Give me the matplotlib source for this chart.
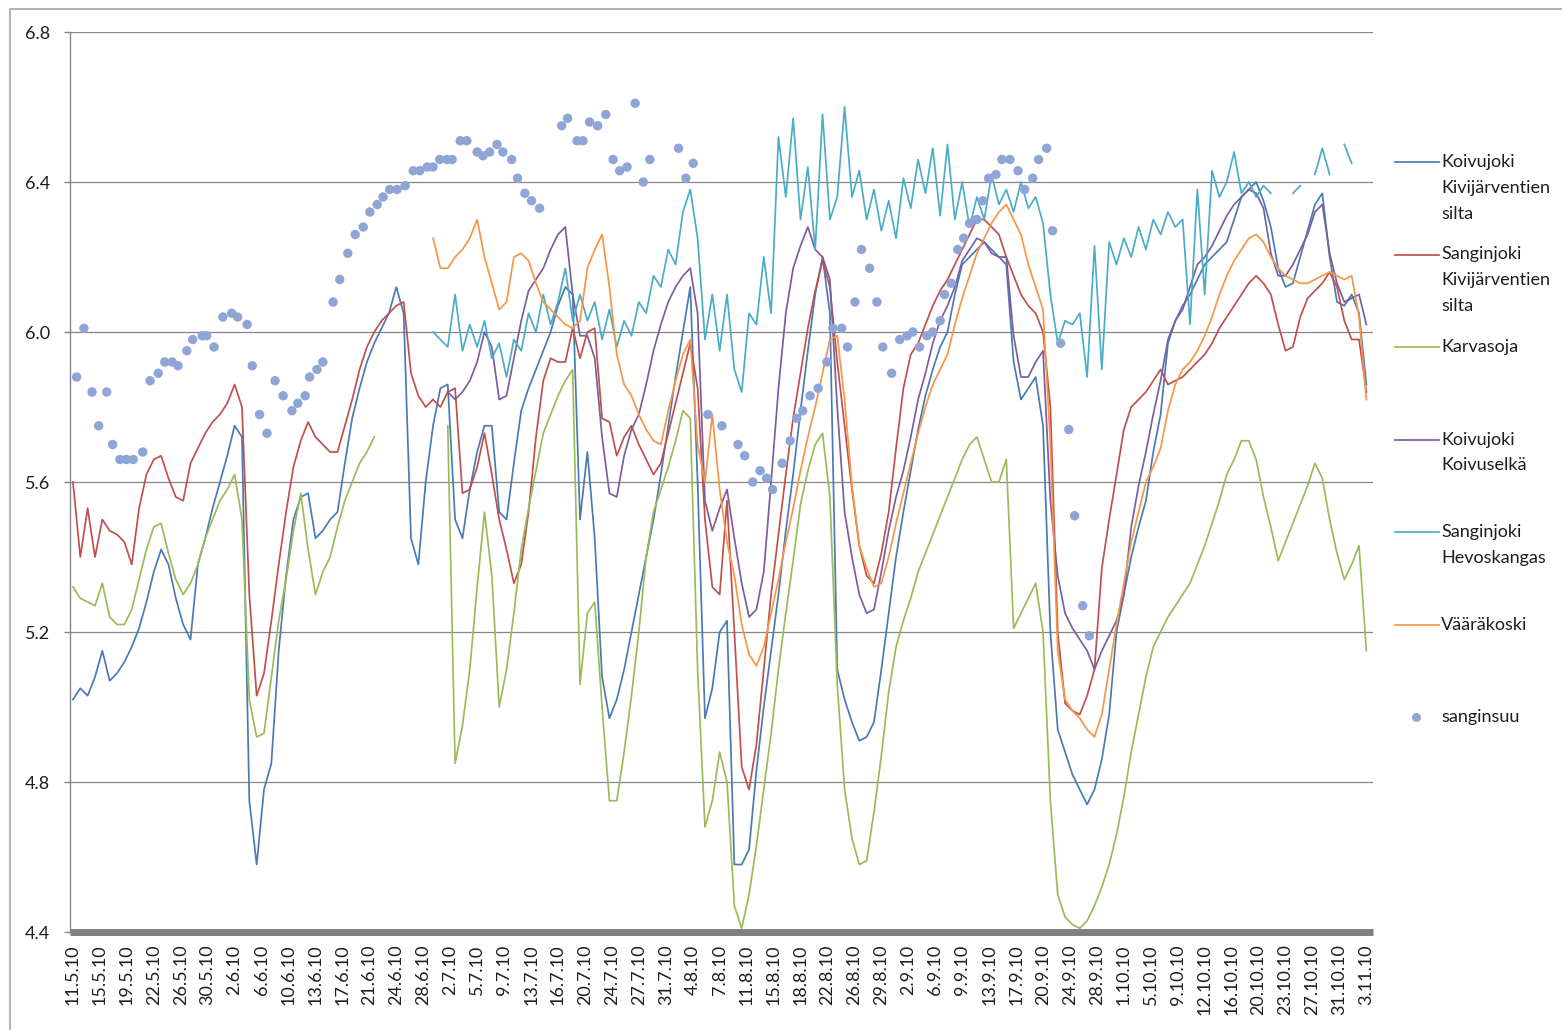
import numpy as np
import matplotlib
matplotlib.use("Agg")
import matplotlib.pyplot as plt
from matplotlib.lines import Line2D

plt.rcParams['font.family'] = ['Lato', 'DejaVu Sans']

# x labels: one label every 11th 8-hour step (= 11/3 days), first one on 11.5.10
DATE_LABELS = ["11.5.10", "15.5.10", "19.5.10", "22.5.10", "26.5.10", "30.5.10",
               "2.6.10", "6.6.10", "10.6.10", "13.6.10", "17.6.10", "21.6.10",
               "24.6.10", "28.6.10", "2.7.10", "5.7.10", "9.7.10", "13.7.10",
               "16.7.10", "20.7.10", "24.7.10", "27.7.10", "31.7.10", "4.8.10",
               "7.8.10", "11.8.10", "15.8.10", "18.8.10", "22.8.10", "26.8.10",
               "29.8.10", "2.9.10", "6.9.10", "9.9.10", "13.9.10", "17.9.10",
               "20.9.10", "24.9.10", "28.9.10", "1.10.10", "5.10.10", "9.10.10",
               "12.10.10", "16.10.10", "20.10.10", "23.10.10", "27.10.10",
               "31.10.10", "3.11.10"]
LABEL_STEP_DAYS = 11 / 3

# daily readings, day 0 = 11.5.10 (pH)
koivujoki_kivi = [
    5.02, 5.05, 5.03, 5.08, 5.15, 5.07, 5.09, 5.12, 5.16, 5.21,   # 0
    5.28, 5.36, 5.42, 5.38, 5.29, 5.22, 5.18, 5.38, 5.45, 5.53,   # 10
    5.60, 5.67, 5.75, 5.72, 4.75, 4.58, 4.78, 4.85, 5.15, 5.35,   # 20
    5.50, 5.56, 5.57, 5.45, 5.47, 5.50, 5.52, 5.65, 5.77, 5.85,   # 30
    5.92, 5.97, 6.01, 6.05, 6.12, 6.05, 5.45, 5.38, 5.60, 5.75,   # 40
    5.85, 5.86, 5.50, 5.45, 5.58, 5.68, 5.75, 5.75, 5.52, 5.50,   # 50
    5.65, 5.79, 5.85, 5.90, 5.95, 6.00, 6.07, 6.12, 6.10, 5.50,   # 60
    5.68, 5.45, 5.08, 4.97, 5.02, 5.10, 5.20, 5.30, 5.40, 5.50,   # 70
    5.62, 5.75, 5.88, 6.00, 6.12, 5.60, 4.97, 5.05, 5.20, 5.23,   # 80
    4.58, 4.58, 4.62, 4.83, 5.00, 5.15, 5.30, 5.47, 5.62, 5.79,   # 90
    5.95, 6.10, 6.20, 6.05, 5.10, 5.02, 4.96, 4.91, 4.92, 4.96,   # 100
    5.10, 5.25, 5.40, 5.52, 5.63, 5.74, 5.83, 5.90, 5.96, 6.00,   # 110
    6.10, 6.18, 6.20, 6.22, 6.24, 6.22, 6.20, 6.18, 5.92, 5.82,   # 120
    5.85, 5.88, 5.75, 5.20, 4.94, 4.88, 4.82, 4.78, 4.74, 4.78,   # 130
    4.86, 4.98, 5.20, 5.30, 5.40, 5.48, 5.55, 5.68, 5.78, 5.97,   # 140
    6.03, 6.07, 6.10, 6.14, 6.18, 6.20, 6.22, 6.24, 6.30, 6.36,   # 150
    6.38, 6.40, 6.35, 6.28, 6.17, 6.12, 6.13, 6.20, 6.27, 6.34,   # 160
    6.37, 6.20, 6.08, 6.07, 6.10, 6.05, 5.86]                     # 170

sanginjoki_kivi = [
    5.60, 5.40, 5.53, 5.40, 5.50, 5.47, 5.46, 5.44, 5.38, 5.53,
    5.62, 5.66, 5.67, 5.61, 5.56, 5.55, 5.65, 5.69, 5.73, 5.76,
    5.78, 5.81, 5.86, 5.80, 5.30, 5.03, 5.09, 5.23, 5.38, 5.52,
    5.64, 5.71, 5.76, 5.72, 5.70, 5.68, 5.68, 5.75, 5.82, 5.90,
    5.96, 6.00, 6.03, 6.05, 6.07, 6.08, 5.89, 5.83, 5.80, 5.82,
    5.80, 5.84, 5.85, 5.57, 5.58, 5.64, 5.73, 5.62, 5.50, 5.42,
    5.33, 5.38, 5.52, 5.72, 5.87, 5.93, 5.92, 5.92, 6.01, 5.93,
    6.00, 6.01, 5.77, 5.76, 5.67, 5.72, 5.75, 5.70, 5.66, 5.62,
    5.65, 5.73, 5.81, 5.89, 5.97, 5.85, 5.50, 5.32, 5.30, 5.55,
    5.20, 4.84, 4.78, 4.90, 5.10, 5.30, 5.46, 5.62, 5.77, 5.89,
    6.01, 6.11, 6.19, 6.12, 5.92, 5.75, 5.58, 5.43, 5.35, 5.33,
    5.41, 5.52, 5.69, 5.85, 5.94, 5.97, 6.02, 6.07, 6.11, 6.14,
    6.18, 6.22, 6.26, 6.30, 6.30, 6.28, 6.26, 6.20, 6.15, 6.10,
    6.07, 6.05, 6.00, 5.80, 5.20, 5.01, 4.99, 4.98, 5.03, 5.10,
    5.37, 5.50, 5.62, 5.74, 5.80, 5.82, 5.84, 5.87, 5.90, 5.86,
    5.87, 5.88, 5.90, 5.92, 5.94, 5.97, 6.01, 6.04, 6.07, 6.10,
    6.13, 6.15, 6.13, 6.10, 6.02, 5.95, 5.96, 6.04, 6.09, 6.11,
    6.13, 6.16, 6.12, 6.03, 5.98, 5.98, 5.84]

karvasoja = [
    5.32, 5.29, 5.28, 5.27, 5.33, 5.24, 5.22, 5.22, 5.26, 5.34,
    5.42, 5.48, 5.49, 5.41, 5.34, 5.30, 5.33, 5.38, 5.45, 5.50,
    5.55, 5.58, 5.62, 5.50, 5.02, 4.92, 4.93, 5.08, 5.23, 5.34,
    5.47, 5.57, 5.42, 5.30, 5.36, 5.40, 5.48, 5.55, 5.60, 5.65,
    5.68, 5.72, None, None, None, None, None, None, None, None,
    None, 5.75, 4.85, 4.95, 5.10, 5.32, 5.52, 5.35, 5.00, 5.10,
    5.25, 5.42, 5.53, 5.63, 5.73, 5.78, 5.83, 5.87, 5.90, 5.06,
    5.25, 5.28, 5.00, 4.75, 4.75, 4.88, 5.03, 5.20, 5.40, 5.52,
    5.58, 5.64, 5.71, 5.79, 5.77, 5.10, 4.68, 4.75, 4.88, 4.80,
    4.47, 4.41, 4.50, 4.63, 4.78, 4.93, 5.10, 5.25, 5.39, 5.54,
    5.63, 5.70, 5.73, 5.56, 5.06, 4.78, 4.65, 4.58, 4.59, 4.72,
    4.87, 5.04, 5.16, 5.23, 5.29, 5.36, 5.41, 5.46, 5.51, 5.56,
    5.61, 5.66, 5.70, 5.72, 5.66, 5.60, 5.60, 5.66, 5.21, 5.25,
    5.29, 5.33, 5.20, 4.75, 4.50, 4.44, 4.42, 4.41, 4.43, 4.47,
    4.52, 4.58, 4.66, 4.76, 4.88, 4.98, 5.08, 5.16, 5.20, 5.24,
    5.27, 5.30, 5.33, 5.38, 5.43, 5.49, 5.55, 5.62, 5.66, 5.71,
    5.71, 5.66, 5.56, 5.48, 5.39, 5.44, 5.49, 5.54, 5.59, 5.65,
    5.61, 5.50, 5.41, 5.34, 5.38, 5.43, 5.15]

koivujoki_koivuselka = [None] * 51 + [
    5.84, 5.82, 5.84, 5.87, 5.92, 6.00, 5.96, 5.82, 5.83,         # 51
    5.93, 6.03, 6.11, 6.14, 6.17, 6.22, 6.26, 6.28, 6.10, 5.99,
    5.99, 5.93, 5.72, 5.57, 5.56, 5.67, 5.74, 5.78, 5.86, 5.95,
    6.02, 6.08, 6.12, 6.15, 6.17, 6.05, 5.55, 5.47, 5.53, 5.58,
    5.45, 5.33, 5.24, 5.26, 5.36, 5.60, 5.85, 6.05, 6.17, 6.23,
    6.28, 6.22, 6.20, 6.14, 5.80, 5.52, 5.40, 5.30, 5.25, 5.26,
    5.36, 5.47, 5.56, 5.63, 5.72, 5.82, 5.89, 5.97, 6.03, 6.07,
    6.12, 6.19, 6.22, 6.25, 6.24, 6.21, 6.20, 6.20, 5.99, 5.88,
    5.88, 5.92, 5.95, 5.55, 5.35, 5.25, 5.21, 5.18, 5.15, 5.10,
    5.15, 5.19, 5.23, 5.30, 5.48, 5.59, 5.68, 5.78, 5.87, 5.98,
    6.03, 6.06, 6.12, 6.18, 6.20, 6.23, 6.27, 6.31, 6.34, 6.36,
    6.38, 6.37, 6.33, 6.21, 6.15, 6.15, 6.18, 6.22, 6.26, 6.32,
    6.34, 6.21, 6.13, 6.08, 6.09, 6.10, 6.02]

sanginjoki_hevoskangas = [None] * 49 + [
    6.00,                                                         # 49
    5.98, 5.96, 6.10, 5.95, 6.02, 5.96, 6.03, 5.93, 5.97, 5.88,
    5.98, 5.95, 6.05, 6.00, 6.10, 6.02, 6.08, 6.17, 6.03, 6.10,
    6.03, 6.08, 5.98, 6.06, 5.96, 6.03, 5.99, 6.08, 6.05, 6.15,
    6.12, 6.22, 6.18, 6.32, 6.38, 6.25, 5.98, 6.10, 5.95, 6.10,
    5.90, 5.84, 6.05, 6.02, 6.20, 6.05, 6.52, 6.36, 6.57, 6.30,
    6.44, 6.22, 6.58, 6.30, 6.36, 6.60, 6.36, 6.43, 6.30, 6.38,
    6.27, 6.35, 6.25, 6.41, 6.33, 6.46, 6.37, 6.49, 6.31, 6.50,
    6.30, 6.40, 6.28, 6.36, 6.30, 6.42, 6.34, 6.38, 6.32, 6.40,
    6.33, 6.36, 6.29, 6.10, 5.97, 6.03, 6.02, 6.05, 5.88, 6.23,
    5.90, 6.24, 6.18, 6.25, 6.20, 6.28, 6.22, 6.30, 6.26, 6.32,
    6.28, 6.30, 6.02, 6.38, 6.10, 6.43, 6.36, 6.40, 6.48, 6.37,
    6.40, 6.36, 6.39, 6.37, None, None, 6.37, 6.39, None, 6.42,
    6.49, 6.42, None, 6.50, 6.45, None, 6.33]

vaarakoski = [None] * 49 + [
    6.25,                                                         # 49
    6.17, 6.17, 6.20, 6.22, 6.25, 6.30, 6.20, 6.13, 6.06, 6.08,
    6.20, 6.21, 6.19, 6.13, 6.08, 6.06, 6.04, 6.02, 6.01, 6.03,
    6.17, 6.22, 6.26, 6.12, 5.94, 5.86, 5.83, 5.78, 5.74, 5.71,
    5.70, 5.79, 5.87, 5.94, 5.98, 5.70, 5.60, 5.78, 5.58, 5.44,
    5.35, 5.22, 5.14, 5.11, 5.16, 5.25, 5.34, 5.44, 5.53, 5.63,
    5.72, 5.80, 5.89, 5.98, 5.99, 5.82, 5.59, 5.43, 5.37, 5.32,
    5.33, 5.40, 5.49, 5.57, 5.65, 5.73, 5.80, 5.86, 5.90, 5.94,
    6.02, 6.09, 6.15, 6.21, 6.25, 6.29, 6.32, 6.34, 6.30, 6.26,
    6.18, 6.12, 6.06, 5.70, 5.15, 5.02, 4.99, 4.97, 4.94, 4.92,
    4.98, 5.10, 5.22, 5.33, 5.44, 5.52, 5.60, 5.64, 5.69, 5.79,
    5.86, 5.90, 5.92, 5.95, 5.99, 6.04, 6.10, 6.15, 6.19, 6.22,
    6.25, 6.26, 6.24, 6.20, 6.17, 6.15, 6.14, 6.13, 6.13, 6.14,
    6.15, 6.16, 6.15, 6.14, 6.15, 6.04, 5.82]

# sanginsuu: single grab samples
sanginsuu_day = [
    0.5, 1.5, 2.6, 3.5, 4.6, 5.4, 6.4, 7.3, 8.2, 9.5,
    10.5, 11.6, 12.5, 13.5, 14.3, 15.5, 16.3, 17.6, 18.2, 19.2,
    20.4, 21.6, 22.4, 23.7, 24.4, 25.4, 26.4, 27.5, 28.6, 29.8,
    30.6, 31.6, 32.2, 33.2, 34.0, 35.4, 36.3, 37.4, 38.4, 39.5,
    40.4, 41.4, 42.2, 43.1, 44.1, 45.2, 46.3, 47.2, 48.2, 49.0,
    49.9, 50.9, 51.6, 52.7, 53.6, 55.0, 55.8, 56.7, 57.7, 58.5,
    59.7, 60.5, 61.5, 62.4, 63.5, 66.5, 67.3, 68.6, 69.4, 70.3,
    71.4, 72.5, 73.5, 74.4, 75.4, 76.5, 77.6, 78.5, 82.4, 83.4,
    84.4, 86.4, 88.3, 90.5, 91.4, 92.5, 93.5, 94.4, 95.2, 96.5,
    97.6, 98.5, 99.3, 100.3, 101.4, 102.6, 103.4, 104.6, 105.4, 106.4,
    107.3, 108.4, 109.4, 110.2, 111.4, 112.5, 113.5, 114.3, 115.2, 116.2,
    117.0, 118.0, 118.6, 119.5, 120.4, 121.2, 122.0, 123.0, 123.8, 124.6,
    125.6, 126.4, 127.5, 128.6, 129.5, 130.6, 131.4, 132.5, 133.3, 134.4,
    135.5, 136.3, 137.4, 138.3]
sanginsuu = [
    5.88, 6.01, 5.84, 5.75, 5.84, 5.70, 5.66, 5.66, 5.66, 5.68,
    5.87, 5.89, 5.92, 5.92, 5.91, 5.95, 5.98, 5.99, 5.99, 5.96,
    6.04, 6.05, 6.04, 6.02, 5.91, 5.78, 5.73, 5.87, 5.83, 5.79,
    5.81, 5.83, 5.88, 5.90, 5.92, 6.08, 6.14, 6.21, 6.26, 6.28,
    6.32, 6.34, 6.36, 6.38, 6.38, 6.39, 6.43, 6.43, 6.44, 6.44,
    6.46, 6.46, 6.46, 6.51, 6.51, 6.48, 6.47, 6.48, 6.50, 6.48,
    6.46, 6.41, 6.37, 6.35, 6.33, 6.55, 6.57, 6.51, 6.51, 6.56,
    6.55, 6.58, 6.46, 6.43, 6.44, 6.61, 6.40, 6.46, 6.49, 6.41,
    6.45, 5.78, 5.75, 5.70, 5.67, 5.60, 5.63, 5.61, 5.58, 5.65,
    5.71, 5.77, 5.79, 5.83, 5.85, 5.92, 6.01, 6.01, 5.96, 6.08,
    6.22, 6.17, 6.08, 5.96, 5.89, 5.98, 5.99, 6.00, 5.96, 5.99,
    6.00, 6.03, 6.10, 6.13, 6.22, 6.25, 6.29, 6.30, 6.35, 6.41,
    6.42, 6.46, 6.46, 6.43, 6.38, 6.41, 6.46, 6.49, 6.27, 5.97,
    5.74, 5.51, 5.27, 5.19]

SERIES = [
    ("Koivujoki\nKivijärventien\nsilta", koivujoki_kivi, "#4A7AB5"),
    ("Sanginjoki\nKivijärventien\nsilta", sanginjoki_kivi, "#C0504D"),
    ("Karvasoja", karvasoja, "#9BBB59"),
    ("Koivujoki\nKoivuselkä", koivujoki_koivuselka, "#7B5E9E"),
    ("Sanginjoki\nHevoskangas", sanginjoki_hevoskangas, "#4BACC6"),
    ("Vääräkoski", vaarakoski, "#F79646"),
]
DOT_LABEL = "sanginsuu"
DOT_COLOR = "#8EA5D6"
TEXT_COLOR = "#1e1e1e"

W, H = 1562, 1030
fig = plt.figure(figsize=(W / 100, H / 100), dpi=100)
ax = fig.add_axes([70 / W, 1 - 932 / H, (1373 - 70) / W, (932 - 32) / H])

for name, vals, col in SERIES:
    y = np.array(vals, dtype=float)
    ax.plot(np.arange(len(y)), y, color=col, lw=1.25, zorder=3)
ax.scatter(sanginsuu_day, sanginsuu, s=46, color=DOT_COLOR, edgecolor="none", zorder=4)

ax.set_ylim(4.4, 6.8)
ax.set_xlim(-0.4, 176.9)
ax.set_yticks(np.arange(4.4, 6.81, 0.4))
ax.set_yticklabels([f"{v:.1f}" for v in np.arange(4.4, 6.81, 0.4)])
ax.set_xticks([i * LABEL_STEP_DAYS for i in range(len(DATE_LABELS))])
ax.set_xticklabels(DATE_LABELS, rotation=90, va="top", ha="center")
ax.tick_params(axis="x", length=0, pad=9, labelsize=13, colors=TEXT_COLOR)
ax.tick_params(axis="y", length=4.3, width=1, color="#868686", pad=10,
               labelsize=13, labelcolor=TEXT_COLOR)

ax.yaxis.grid(True, color="#868686", lw=0.9)
ax.set_axisbelow(True)
for s in ("top", "right"):
    ax.spines[s].set_visible(False)
ax.spines["left"].set_color("#868686")
ax.spines["left"].set_linewidth(1)
ax.spines["bottom"].set_color("#7f7f7f")
ax.spines["bottom"].set_linewidth(5)
ax.spines["bottom"].set_capstyle("butt")

# legend, drawn by hand to keep Excel's fixed slot height
def fx(px):
    return px / W

def fy(py):
    return 1 - py / H

slot0, slot_h, line_h = 162, 92.5, 26
for i, (name, vals, col) in enumerate(SERIES):
    y0 = slot0 + slot_h * i
    fig.add_artist(Line2D([fx(1395), fx(1439)], [fy(y0), fy(y0)],
                          transform=fig.transFigure, color=col, lw=1.25))
    for k, part in enumerate(name.split("\n")):
        fig.text(fx(1441), fy(y0 + line_h * k), part, va="center", ha="left",
                 fontsize=13, color=TEXT_COLOR)
y0 = slot0 + slot_h * len(SERIES)
fig.add_artist(Line2D([fx(1416)], [fy(y0)], transform=fig.transFigure,
                      marker="o", ms=6.5, color=DOT_COLOR, mec="none", ls="none"))
fig.text(fx(1441), fy(y0), DOT_LABEL, va="center", ha="left", fontsize=13,
         color=TEXT_COLOR)

# chart-area frame
fig.add_artist(Line2D([fx(10), fx(10), fx(W)], [0, fy(9), fy(9)],
                      transform=fig.transFigure, color="#a6a6a6", lw=1.2))

fig.savefig("out.png", dpi=100)
